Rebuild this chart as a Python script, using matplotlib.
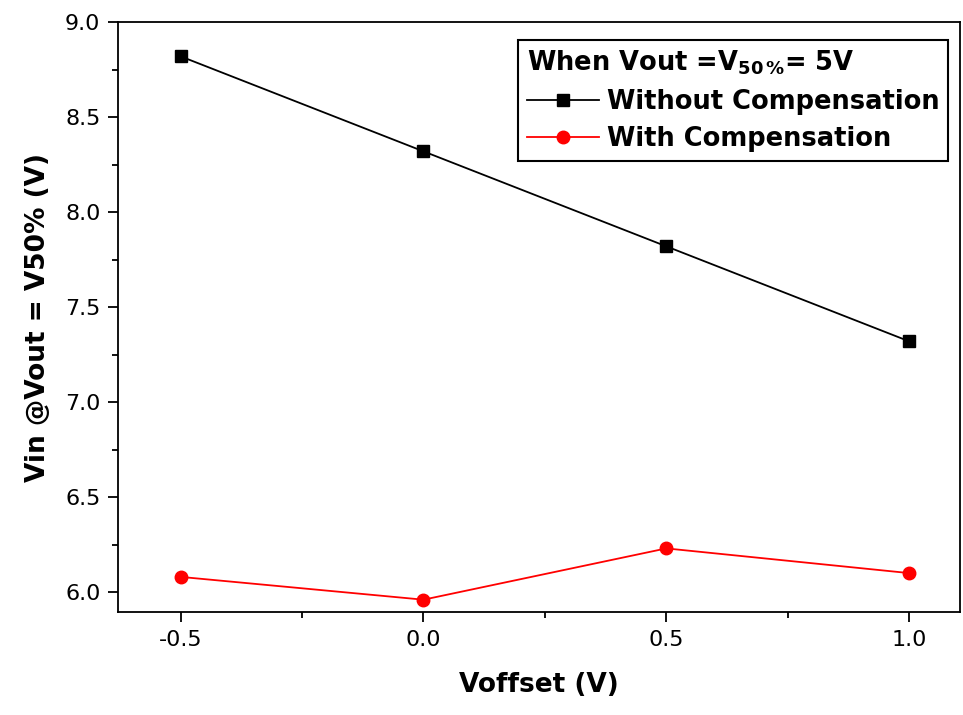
import matplotlib
matplotlib.use('Agg')
import matplotlib.pyplot as plt
from matplotlib.ticker import MultipleLocator

plt.rcParams['font.family'] = ['DejaVu Sans']
plt.rcParams['mathtext.fontset'] = 'dejavusans'

v_offset = [-0.5, 0.0, 0.5, 1.0]
without_comp = [8.82, 8.32, 7.82, 7.32]
with_comp = [6.08, 5.96, 6.23, 6.10]

fig = plt.figure(figsize=(9.63, 7.15), dpi=100)
ax = fig.add_axes([0.123, 0.144, 0.874, 0.825])

ax.plot(v_offset, without_comp, color='black', marker='s', markersize=8, lw=1.3,
        label='Without Compensation')
ax.plot(v_offset, with_comp, color='red', marker='o', markersize=9, lw=1.3,
        label='With Compensation')

ax.set_xlim(-0.628, 1.105)
ax.set_ylim(5.895, 9.0)
ax.xaxis.set_major_locator(MultipleLocator(0.5))
ax.xaxis.set_minor_locator(MultipleLocator(0.25))
ax.yaxis.set_major_locator(MultipleLocator(0.5))
ax.yaxis.set_minor_locator(MultipleLocator(0.25))
ax.tick_params(which='major', direction='out', length=7, width=1.3, labelsize=16,
               top=False, right=False, pad=6)
ax.tick_params(which='minor', direction='out', length=4, width=1.3, top=False, right=False)
ax.xaxis.set_major_formatter(plt.FuncFormatter(lambda v, p: f'{v:.1f}'))
ax.yaxis.set_major_formatter(plt.FuncFormatter(lambda v, p: f'{v:.1f}'))
for s in ax.spines.values():
    s.set_linewidth(1.3)

ax.set_xlabel('Voffset (V)', fontsize=19, fontweight='bold', labelpad=16)
ax.set_ylabel('Vin @Vout = V50% (V)', fontsize=19, fontweight='bold', labelpad=10)

leg = ax.legend(loc='upper right', bbox_to_anchor=(0.986, 0.97), borderaxespad=0,
                title=r'When Vout =V$_{\mathbf{50\,\%}}$= 5V',
                prop={'size': 18.5, 'weight': 'bold'}, handlelength=2.8,
                handletextpad=0.3, borderpad=0.35, labelspacing=0.45,
                fancybox=False, edgecolor='black', framealpha=1)
leg.get_title().set_fontsize(18.5)
leg.get_title().set_fontweight('bold')
leg._legend_box.align = 'left'
leg.get_frame().set_linewidth(1.5)

fig.savefig('out.png', dpi=100)
